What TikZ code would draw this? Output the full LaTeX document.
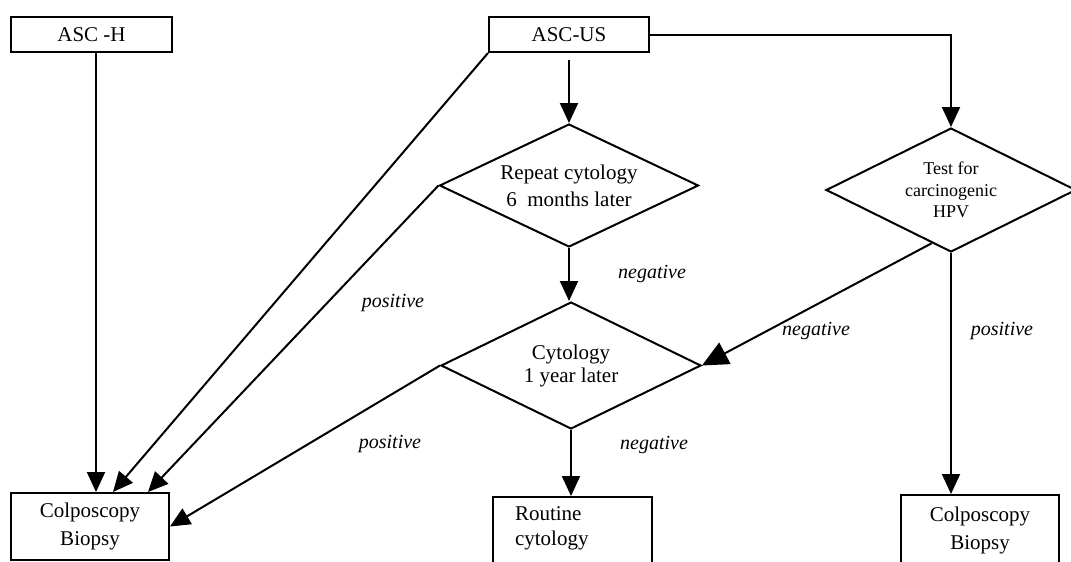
\documentclass[tikz,border=0pt]{standalone}
\usepackage{fontspec}
\setmainfont{Liberation Serif}
\usetikzlibrary{shapes.geometric,arrows.meta}

\newcommand{\toplines}[2]{\begin{tabular}[t]{@{}l@{}}#1\\#2\end{tabular}}

\begin{document}
\begin{tikzpicture}[x=0.5pt,y=-0.5pt,line width=1pt,
    box/.style={draw,rectangle,inner sep=0pt,align=center,font=\fontsize{10.5}{14}\selectfont},
    dia/.style={draw,diamond,aspect=2.1,inner sep=0pt,align=center},
    lbl/.style={font=\fontsize{10}{12}\selectfont\itshape},
    arr/.style={-{Triangle[length=10pt,width=9pt]}},
    bigarr/.style={-{Triangle[length=13pt,width=12pt]}}]
   \useasboundingbox (0,0) rectangle (1071,562);
   % boxes
   \node[box,minimum width=80.5pt,minimum height=17.5pt] (asch) at (91.5,34.5) {ASC -H};
   \node[box,minimum width=80pt,minimum height=17.5pt] (ascus) at (569,34.5) {ASC-US};
   \node[box,minimum width=79pt,minimum height=33.5pt] (colpL) at (90,526.5) {Colposcopy\\Biopsy};
   \node[box,minimum width=79pt,minimum height=35pt] (colpR) at (980,530) {Colposcopy\\Biopsy};
   \node[box,anchor=north,inner xsep=11pt,text width=57.5pt,align=left,text height=11.5pt,text depth=28pt,
         font=\fontsize{10.5}{12.5}\selectfont] (routine) at (572.5,496) {\toplines{Routine}{cytology}};
   % decisions
   \node[dia,minimum width=129.5pt,minimum height=61.5pt,font=\fontsize{10.5}{13.5}\selectfont] (repeat) at (569,185.5) {Repeat cytology\\6\ \ months later};
   \node[dia,minimum width=130pt,minimum height=63.5pt,font=\fontsize{10.5}{11.5}\selectfont] (cyto) at (571,365.5) {Cytology\\1 year later};
   \node[dia,minimum width=125pt,minimum height=62pt,font=\fontsize{9}{10.75}\selectfont] (hpv) at (951,190) {Test for\\carcinogenic\\HPV};
   % labels
   \node[lbl] (pos1) at (393,303) {positive};
   \node[lbl] (neg1) at (652,274) {negative};
   \node[lbl] (neg2) at (816,331) {negative};
   \node[lbl] (pos2) at (1002,331) {positive};
   \node[lbl] (pos3) at (390,444) {positive};
   \node[lbl] (neg3) at (654,445) {negative};
   % arrows
   \path[arr]
    ([xshift=2.25pt]asch.south) edge ([xshift=3pt]colpL.north)
    (ascus.south west) edge ([xshift=11.5pt]colpL.north)
    (repeat.west) edge ([xshift=-11pt]colpL.north east)
    (cyto.west) edge (colpL.east)
    ([yshift=-3.5pt]ascus.south) edge (repeat.north)
    (repeat.south) edge (repeat.south |- cyto.north)
    (cyto.south) edge (cyto.south |- routine.north)
    (hpv.south) edge (hpv.south |- colpR.north);
   \draw[arr] (ascus.east) -| (hpv.north);
   \draw[bigarr] (hpv.250) -- (cyto.east);
\end{tikzpicture}
\end{document}
